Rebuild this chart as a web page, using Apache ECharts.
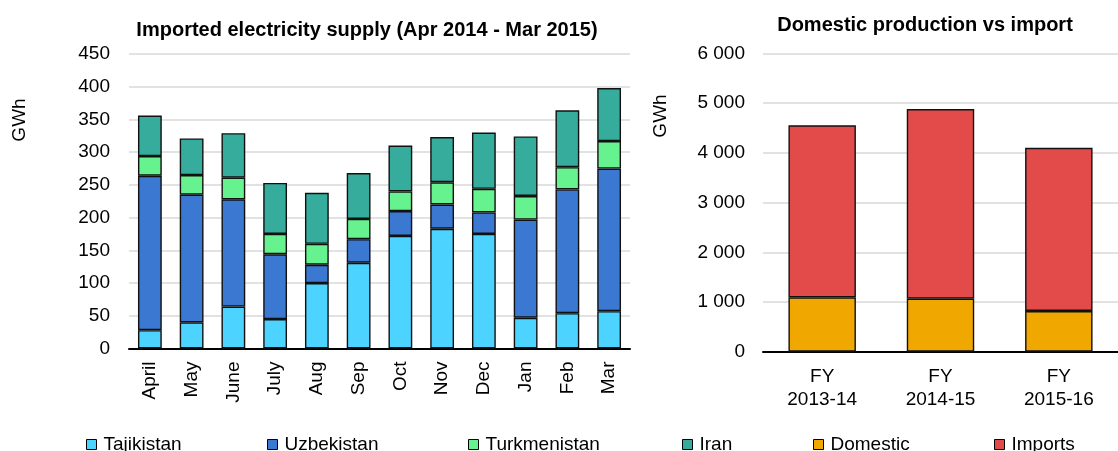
<!DOCTYPE html>
<html><head><meta charset="utf-8">
<script src="https://cdn.jsdelivr.net/npm/echarts@6/dist/echarts.min.js"></script>
<style>html,body{margin:0;padding:0;background:#fff}#c{width:1118px;height:451px}</style>
</head><body><div id="c"></div>
<script>
const months = ['April','May','June','July','Aug','Sep','Oct','Nov','Dec','Jan','Feb','Mar'];
const tajikistan = [28,40,64,45,100,131,172,183,175,47,54,57];
const uzbekistan = [236,195,164,99,28,36,38,37,33,150,189,218];
const turkmenistan = [30,30,33,31,32,31,30,34,36,36,34,42];
const iran = [62,56,68,78,78,70,70,69,86,91,87,81];
const leftTicks = {min:0, max:450, interval:50};

const years = ['FY\n2013-14','FY\n2014-15','FY\n2015-16'];
const domestic = [1094,1066,819];
const imports = [3460,3816,3284];
const rightTicks = {min:0, max:6000, interval:1000};

const FONT = '"Liberation Sans", Arial, sans-serif';
const colors = {Tajikistan:'#4CD3FF', Uzbekistan:'#3A78D1', Turkmenistan:'#66F38F', Iran:'#36AC9C', Domestic:'#F0A800', Imports:'#E24B4A'};

const chart = echarts.init(document.getElementById('c'), null, {renderer:'canvas'});
const axisLabel = {color:'#000', fontSize:19, fontFamily:FONT};
const splitLine = {show:true, lineStyle:{color:'#d9d9d9', width:1.5}};
function bar(name, data, xi){
  return {name, type:'bar', stack:'s'+xi, xAxisIndex:xi, yAxisIndex:xi, data, barWidth:'57%',
    itemStyle:{color:colors[name], borderColor:'#111', borderWidth:1.4}, emphasis:{disabled:true}};
}
const legendPos = [['Tajikistan',86],['Uzbekistan',267],['Turkmenistan',468],['Iran',682],['Domestic',813],['Imports',994]];
chart.setOption({
  animation:false,
  textStyle:{fontFamily:FONT},
  title:[
    {text:'Imported electricity supply (Apr 2014 - Mar 2015)', left:367, top:20, textAlign:'center', padding:0,
     textStyle:{fontSize:20, fontWeight:'bold', color:'#000', fontFamily:FONT}},
    {text:'Domestic production vs import', left:925, top:15, textAlign:'center', padding:0,
     textStyle:{fontSize:20, fontWeight:'bold', color:'#000', fontFamily:FONT}}
  ],
  legend: legendPos.map(([n,x]) => ({data:[n], left:x, top:435, padding:0, icon:'rect', itemWidth:10, itemHeight:10,
    itemStyle:{borderColor:'#000', borderWidth:1},
    textStyle:{fontSize:19, color:'#000', fontFamily:FONT, padding:[0,0,0,2]}})),
  grid:[
    {left:129, width:501, top:54, height:294.5},
    {left:763, width:367.5, top:53.5, height:298.2}
  ],
  xAxis:[
    {type:'category', gridIndex:0, data:months, axisTick:{show:false},
     axisLine:{lineStyle:{color:'#000', width:2}},
     axisLabel:Object.assign({}, axisLabel, {rotate:90, margin:13, interval:0})},
    {type:'category', gridIndex:1, data:years, axisTick:{show:false},
     axisLine:{lineStyle:{color:'#000', width:2}},
     axisLabel:Object.assign({}, axisLabel, {margin:14, lineHeight:23, interval:0})}
  ],
  yAxis:[
    {type:'value', gridIndex:0, min:leftTicks.min, max:leftTicks.max, interval:leftTicks.interval,
     axisLine:{show:false}, axisTick:{show:false}, splitLine,
     axisLabel:Object.assign({}, axisLabel, {margin:19})},
    {type:'value', gridIndex:1, min:rightTicks.min, max:rightTicks.max, interval:rightTicks.interval,
     axisLine:{show:false}, axisTick:{show:false}, splitLine,
     axisLabel:Object.assign({}, axisLabel, {margin:18, formatter:v => String(v).replace(/\B(?=(\d{3})+(?!\d))/g,' ')})}
  ],
  graphic:[
    {type:'text', x:20, y:120, rotation:Math.PI/2, style:{text:'GWh', fontSize:19, fontFamily:FONT, fill:'#000', align:'center', verticalAlign:'middle'}},
    {type:'text', x:661, y:116, rotation:Math.PI/2, style:{text:'GWh', fontSize:19, fontFamily:FONT, fill:'#000', align:'center', verticalAlign:'middle'}}
  ],
  series:[
    bar('Tajikistan', tajikistan, 0),
    bar('Uzbekistan', uzbekistan, 0),
    bar('Turkmenistan', turkmenistan, 0),
    bar('Iran', iran, 0),
    bar('Domestic', domestic, 1),
    bar('Imports', imports, 1)
  ]
});
</script></body></html>
